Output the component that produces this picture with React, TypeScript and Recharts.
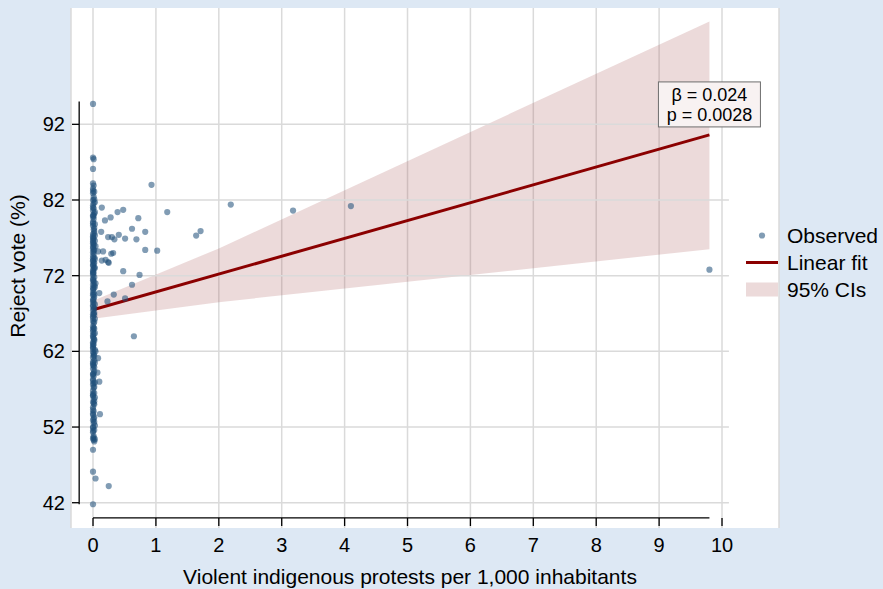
import {
  Area,
  CartesianGrid,
  ComposedChart,
  Line,
  ReferenceDot,
  ReferenceLine,
  Scatter,
  XAxis,
  YAxis,
} from 'recharts';

// x = violent indigenous protests per 1,000 inhabitants, y = reject vote (%)
const columnAtZero: Array<[number, number]> = [
  [0, 94.7], [0, 87.6], [0.01, 87.4], [0, 86.1], [0, 84.2], [0.01, 83.9], [0, 83.5], [0.02, 83.1],
  [0, 82.9], [0.01, 82.4], [0, 82.0], [0.03, 81.7], [0, 81.3], [0.01, 80.9], [0, 80.6], [0.02, 80.2],
  [0, 80.0], [0.01, 79.5], [0, 79.1], [0.03, 78.8], [0, 78.6], [0.01, 78.1], [0.02, 77.9], [0, 77.5],
  [0, 77.2], [0.01, 76.9], [0.03, 76.6], [0, 76.3], [0.01, 76.0], [0, 75.8], [0.02, 75.4], [0, 75.1],
  [0.01, 74.9], [0, 74.6], [0.03, 74.2], [0, 74.0], [0.01, 73.6], [0, 73.3], [0.02, 73.1], [0, 72.7],
  [0.01, 72.4], [0, 72.1], [0.02, 71.8], [0, 71.4], [0.01, 71.1], [0, 70.8], [0.03, 70.5], [0, 70.1],
  [0.01, 69.8], [0, 69.4], [0.02, 69.2], [0, 68.8], [0.01, 68.4], [0, 68.1], [0.02, 67.7], [0, 67.4],
  [0.01, 67.0], [0, 66.6], [0.03, 66.3], [0, 66.0], [0.01, 65.7], [0, 65.3], [0.02, 65.0], [0, 64.6],
  [0.01, 64.3], [0, 63.9], [0.02, 63.6], [0, 63.2], [0.01, 62.9], [0, 62.5], [0.03, 62.2], [0, 61.9],
  [0.01, 61.5], [0, 61.2], [0.02, 60.8], [0, 60.4], [0.01, 60.1], [0, 59.7], [0.02, 59.4], [0, 59.0],
  [0.01, 58.7], [0, 58.3], [0.03, 57.9], [0, 57.6], [0.01, 57.2], [0, 56.8], [0.02, 56.5], [0, 56.1],
  [0.01, 55.7], [0, 55.3], [0.02, 55.0], [0, 54.6], [0.01, 54.1], [0, 53.8], [0.02, 53.3], [0, 52.9],
  [0.01, 52.5], [0, 52.0], [0.02, 51.6], [0, 51.3], [0.01, 50.8], [0, 50.5], [0.02, 50.1], [0, 49.0],
  [0, 46.1], [0, 41.8],
  [0.01, 81.6], [0, 79.8], [0.02, 78.3], [0, 77.0], [0.01, 76.2], [0, 75.6], [0.02, 74.4], [0, 73.9],
  [0.01, 72.9], [0, 71.6], [0.02, 70.7], [0, 69.6], [0.01, 68.9], [0, 67.9], [0.02, 67.1], [0, 66.4],
  [0.01, 65.1], [0, 64.1], [0.02, 63.4], [0, 62.7], [0.01, 61.7], [0, 60.6], [0.02, 59.9], [0, 58.9],
  [0.01, 57.8], [0, 56.4], [0.02, 55.4], [0, 54.3], [0.01, 53.1], [0, 51.9], [0.01, 50.6], [0, 76.7],
  [0.03, 80.4], [0, 73.4], [0.01, 70.3], [0, 63.0], [0.02, 66.8], [0, 72.3],
  [0, 83.2], [0.02, 82.1], [0, 81.0], [0.01, 79.9], [0, 78.9], [0.02, 77.6], [0, 76.5], [0.01, 75.3],
  [0, 74.3], [0.02, 73.7], [0, 72.5], [0.01, 71.3], [0, 70.4], [0.02, 69.5], [0, 68.6], [0.01, 67.6],
  [0, 66.9], [0.02, 65.9], [0, 64.9], [0.01, 63.7], [0, 62.3], [0.02, 61.4], [0, 60.2], [0.01, 59.1],
  [0, 58.1], [0.02, 57.3], [0, 56.2], [0.01, 55.1], [0, 53.6], [0.02, 52.7], [0, 51.5], [0.01, 50.3],
  [0.03, 77.3], [0.03, 73.0], [0.03, 68.2], [0.03, 64.4], [0.03, 60.5], [0.03, 55.9], [0.03, 52.2],
  [0.04, 75.9], [0.04, 71.0], [0.04, 62.0],
];

const spreadPoints: Array<[number, number]> = [
  [0.93, 84.0], [2.19, 81.4], [1.18, 80.4], [3.18, 80.6], [4.1, 81.2], [9.8, 72.8],
  [0.14, 81.0], [0.19, 79.3], [0.28, 79.7], [0.39, 80.4], [0.48, 80.7], [0.72, 79.6],
  [0.62, 78.2], [0.83, 77.8], [0.13, 77.8], [0.24, 77.1], [0.3, 77.1], [0.34, 76.8],
  [0.41, 77.4], [0.51, 76.9], [0.69, 76.8], [1.64, 77.3], [1.71, 77.9], [0.83, 75.4],
  [1.02, 75.3], [0.29, 74.9], [0.32, 75.0], [0.16, 75.2], [0.08, 75.2], [0.14, 74.0],
  [0.2, 74.1], [0.24, 73.8], [0.25, 73.7], [0.48, 72.6], [0.74, 72.1], [0.62, 70.8],
  [0.1, 69.7], [0.33, 69.5], [0.23, 68.6], [0.51, 69.0], [0.65, 64.0], [0.08, 61.1],
  [0.07, 59.2], [0.1, 58.0], [0.11, 53.7], [0.03, 50.4], [0.04, 45.2], [0.25, 44.2],
];

const observed = [...columnAtZero, ...spreadPoints].map(([x, y]) => ({ x, y }));

const fitLine = [
  { x: 0, fit: 67.5 },
  { x: 9.8, fit: 90.6 },
];

const ciBand = [
  { x: 0, ci: [66.3, 68.7] },
  { x: 2, ci: [68.5, 75.6] },
  { x: 9.8, ci: [75.5, 105.6] },
];

const xTicks = [0, 1, 2, 3, 4, 5, 6, 7, 8, 9, 10];
const yTicks = [42, 52, 62, 72, 82, 92];

const FONT = '"Liberation Sans", Arial, Helvetica, sans-serif';
const BG = '#dde8f4';
const DOT = '#1f4e79';
const DOT_OPACITY = 0.56;
const FIT = '#8b0000';

const XTick = ({ x, payload }: any) => (
  <g>
    <line x1={x} x2={x} y1={518} y2={526} stroke="#000" strokeWidth={1.3} />
    <text x={x} y={552} textAnchor="middle" fontSize={20} fontFamily={FONT} fill="#000">
      {payload.value}
    </text>
  </g>
);

const YTick = ({ y, payload }: any) => (
  <g>
    <line x1={72} x2={79} y1={y} y2={y} stroke="#000" strokeWidth={1.3} />
    <text x={65} y={y + 7} textAnchor="end" fontSize={20} fontFamily={FONT} fill="#000">
      {payload.value}
    </text>
  </g>
);

const legendRows = [
  { label: 'Observed', kind: 'dot' },
  { label: 'Linear fit', kind: 'line' },
  { label: '95% CIs', kind: 'band' },
];

const LegendBox = () => (
  <div style={{ position: 'absolute', left: 746, top: 222, fontFamily: FONT, fontSize: 21, color: '#000' }}>
    {legendRows.map((row) => (
      <div key={row.label} style={{ display: 'flex', alignItems: 'center', height: 27 }}>
        <svg width={32} height={27}>
          {row.kind === 'dot' && <circle cx={16} cy={13.5} r={3.1} fill={DOT} fillOpacity={DOT_OPACITY} />}
          {row.kind === 'line' && <line x1={0} x2={32} y1={13.5} y2={13.5} stroke={FIT} strokeWidth={3} />}
          {row.kind === 'band' && <rect x={0} y={6.5} width={32} height={14} fill="#a85555" fillOpacity={0.22} />}
        </svg>
        <span style={{ marginLeft: 9, whiteSpace: 'nowrap' }}>{row.label}</span>
      </div>
    ))}
  </div>
);

const StatsBox = ({ cx, cy }: any) => (
  <g>
    <rect x={cx - 51} y={cy - 53} width={102} height={45} fill="#f8f2f2" stroke="#6e6e6e" strokeWidth={1} />
    <text x={cx} y={cy - 33.5} textAnchor="middle" fontSize={18} fontFamily={FONT} fill="#000">
      β = 0.024
    </text>
    <text x={cx} y={cy - 13.5} textAnchor="middle" fontSize={18} fontFamily={FONT} fill="#000">
      p = 0.0028
    </text>
  </g>
);

export default function App() {
  return (
    <div style={{ position: 'absolute', left: 0, top: 0, width: 883, height: 589, background: BG }}>
      <ComposedChart width={883} height={589} margin={{ top: 8, right: 104, bottom: 0, left: 0 }}>
        <CartesianGrid fill="#ffffff" horizontal={false} stroke="#dadada" strokeWidth={1.5} />
        <XAxis
          type="number"
          dataKey="x"
          domain={[-0.35, 10.906]}
          ticks={xTicks}
          allowDataOverflow
          height={61}
          axisLine={false}
          tickLine={false}
          tick={<XTick />}
          label={{
            content: () => (
              <text x={410} y={584} textAnchor="middle" fontSize={21} fontFamily={FONT} fill="#000">
                Violent indigenous protests per 1,000 inhabitants
              </text>
            ),
          }}
        />
        <YAxis
          type="number"
          dataKey="y"
          domain={[38.66, 107.37]}
          ticks={yTicks}
          allowDataOverflow
          width={71}
          axisLine={false}
          tickLine={false}
          tick={<YTick />}
          label={{
            content: () => (
              <text
                x={25}
                y={266}
                transform="rotate(-90 25 266)"
                textAnchor="middle"
                fontSize={21}
                fontFamily={FONT}
                fill="#000"
              >
                Reject vote (%)
              </text>
            ),
          }}
        />
        {yTicks.map((t) => (
          <ReferenceLine
            key={t}
            segment={[{ x: -0.22, y: t }, { x: 10.11, y: t }]}
            stroke="#dadada"
            strokeWidth={1.5}
          />
        ))}
        <Area
          data={ciBand}
          dataKey="ci"
          type="linear"
          stroke="none"
          fill="#a85555"
          fillOpacity={0.22}
          isAnimationActive={false}
          activeDot={false}
        />
        <Scatter
          data={observed}
          dataKey="y"
          isAnimationActive={false}
          shape={(p: any) => <circle cx={p.cx} cy={p.cy} r={3.1} fill={DOT} fillOpacity={DOT_OPACITY} />}
        />
        <Line
          data={fitLine}
          dataKey="fit"
          type="linear"
          stroke={FIT}
          strokeWidth={3}
          dot={false}
          activeDot={false}
          isAnimationActive={false}
        />
        <ReferenceLine segment={[{ x: -0.22, y: 41.8 }, { x: -0.22, y: 95.0 }]} stroke="#000" strokeWidth={1.3} />
        <ReferenceLine segment={[{ x: 0, y: 40.0 }, { x: 9.8, y: 40.0 }]} stroke="#000" strokeWidth={1.3} />
        <ReferenceDot x={9.8} y={90.6} shape={<StatsBox />} />
      </ComposedChart>
      <LegendBox />
    </div>
  );
}
